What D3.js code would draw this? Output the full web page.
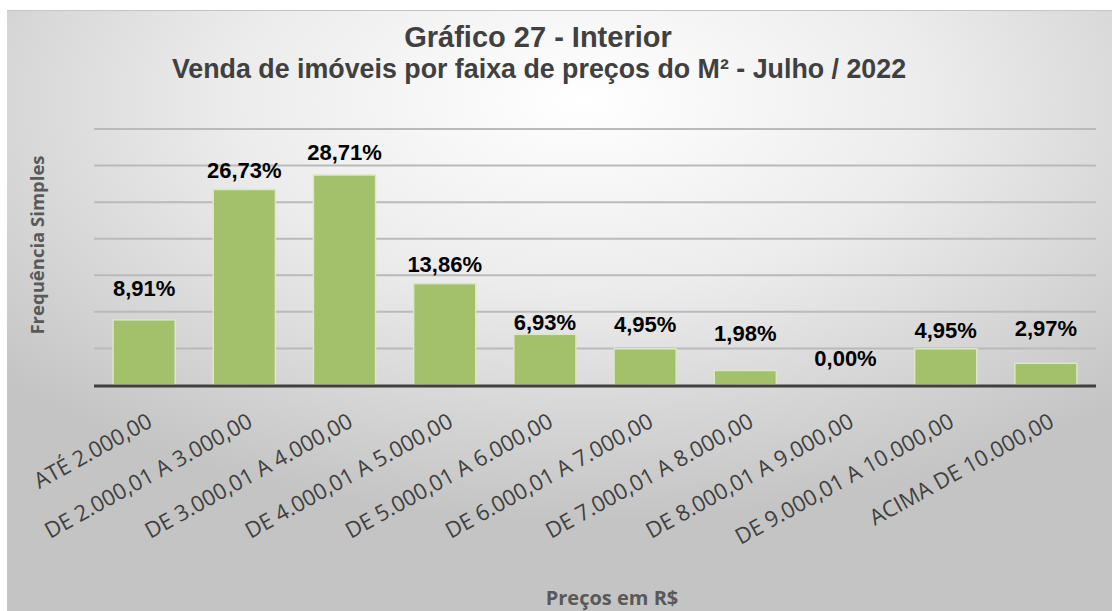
<!DOCTYPE html>
<html>
<head>
<meta charset="utf-8">
<script src="https://cdn.jsdelivr.net/npm/d3@7"></script>
<style>
  body { margin: 0; background: #fff; }
  svg { display: block; }
</style>
</head>
<body>
<svg width="1112" height="611"></svg>
<script>
// Price ranges (R$ per m²) and share of sales
const categories = [
    "ATÉ 2.000,00",
    "DE 2.000,01 A 3.000,00",
    "DE 3.000,01 A 4.000,00",
    "DE 4.000,01 A 5.000,00",
    "DE 5.000,01 A 6.000,00",
    "DE 6.000,01 A 7.000,00",
    "DE 7.000,01 A 8.000,00",
    "DE 8.000,01 A 9.000,00",
    "DE 9.000,01 A 10.000,00",
    "ACIMA DE 10.000,00"
];
const values = [8.91, 26.73, 28.71, 13.86, 6.93, 4.95, 1.98, 0.00, 4.95, 2.97];
const gridTicks = [5, 10, 15, 20, 25, 30, 35];

// how far each value label sits above its bar (px), as placed in the original
const labelLift = [24, 11, 15, 12, 4, 17, 30, 19, 11, 27];

const svg = d3.select("svg");

// chart area background with soft radial gradient
const defs = svg.append("defs");
const grad = defs.append("radialGradient")
    .attr("id", "bg")
    .attr("cx", "0.52").attr("cy", "0.15").attr("r", "0.7");
grad.append("stop").attr("offset", "0").attr("stop-color", "#ffffff");
grad.append("stop").attr("offset", "0.45").attr("stop-color", "#ececec");
grad.append("stop").attr("offset", "1").attr("stop-color", "#c4c4c4");

svg.append("rect")
    .attr("x", 7).attr("y", 10)
    .attr("width", 1105).attr("height", 601)
    .attr("fill", "url(#bg)");
svg.append("line")
    .attr("x1", 7).attr("x2", 1112).attr("y1", 10.5).attr("y2", 10.5)
    .attr("stroke", "#c4c4c4").attr("stroke-width", 1);

// scales
const x = d3.scaleBand()
    .domain(categories)
    .range([94, 1096])
    .paddingInner(0.38)
    .paddingOuter(0.19);

const y = d3.scaleLinear()
    .domain([0, 35])
    .range([385, 129]);

// gridlines
svg.append("g")
    .selectAll("line")
    .data(gridTicks)
    .enter()
    .append("line")
    .attr("x1", 94).attr("x2", 1096)
    .attr("y1", d => y(d)).attr("y2", d => y(d))
    .attr("stroke", "#bababa")
    .attr("stroke-width", 2);

// bars
svg.append("g")
    .selectAll("rect")
    .data(values)
    .enter()
    .append("rect")
    .attr("x", (d, i) => x(categories[i]))
    .attr("y", d => y(d))
    .attr("width", x.bandwidth())
    .attr("height", d => y(0) - y(d))
    .attr("fill", "#a3c16b")
    .attr("stroke", "#dbe8c4")
    .attr("stroke-width", 1.5);

// baseline
svg.append("line")
    .attr("x1", 94).attr("x2", 1096)
    .attr("y1", y(0) + 1).attr("y2", y(0) + 1)
    .attr("stroke", "#404040")
    .attr("stroke-width", 3);

// value labels
svg.append("g")
    .selectAll("text")
    .data(values)
    .enter()
    .append("text")
    .attr("x", (d, i) => x(categories[i]) + x.bandwidth() / 2)
    .attr("y", (d, i) => y(d) - labelLift[i])
    .attr("text-anchor", "middle")
    .style("font-family", "'Liberation Sans', Arial, sans-serif")
    .style("font-weight", "bold")
    .style("font-size", "22px")
    .style("fill", "#000")
    .text(d => d.toFixed(2).replace(".", ",") + "%");

// x axis tick labels, rotated
const xAxis = svg.append("g")
    .attr("transform", `translate(0,${y(0)})`)
    .call(d3.axisBottom(x).tickSize(0));
xAxis.select(".domain").remove();
xAxis.selectAll("text")
    .attr("x", 0).attr("y", 0)
    .attr("dy", "0.72em")
    .attr("text-anchor", "end")
    .attr("transform", "translate(2,27) rotate(-29)")
    .style("font-family", "'Open Sans', sans-serif")
    .style("font-size", "22px")
    .style("fill", "#404040");

// titles
svg.append("text")
    .attr("x", 538).attr("y", 47)
    .attr("text-anchor", "middle")
    .style("font-family", "'Liberation Sans', Arial, sans-serif")
    .style("font-weight", "bold")
    .style("font-size", "29px")
    .style("fill", "#404040")
    .text("Gráfico 27 - Interior");

svg.append("text")
    .attr("x", 539).attr("y", 78)
    .attr("text-anchor", "middle")
    .style("font-family", "'Liberation Sans', Arial, sans-serif")
    .style("font-weight", "bold")
    .style("font-size", "26.8px")
    .style("fill", "#404040")
    .text("Venda de imóveis por faixa de preços do M² - Julho / 2022");

// axis titles
svg.append("text")
    .attr("transform", "translate(44,245) rotate(-90)")
    .attr("text-anchor", "middle")
    .style("font-family", "'Open Sans', sans-serif")
    .style("font-weight", "bold")
    .style("font-size", "18.5px")
    .style("fill", "#595959")
    .text("Frequência Simples");

svg.append("text")
    .attr("x", 612).attr("y", 605)
    .attr("text-anchor", "middle")
    .style("font-family", "'Open Sans', sans-serif")
    .style("font-weight", "bold")
    .style("font-size", "20px")
    .style("fill", "#595959")
    .text("Preços em R$");
</script>
</body>
</html>
